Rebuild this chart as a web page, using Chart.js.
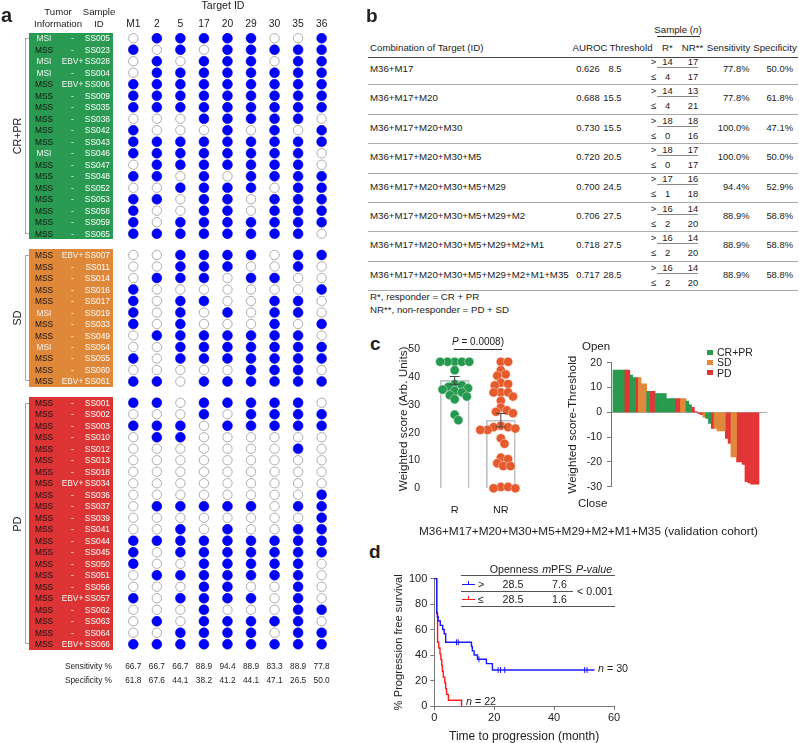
<!DOCTYPE html>
<html>
<head>
<meta charset="utf-8">
<script src="https://cdn.jsdelivr.net/npm/chart.js@4.4.0/dist/chart.umd.min.js"></script>
<style>
html, body { margin: 0; background: #fff; }
#page { position: relative; width: 799px; height: 743px; overflow: hidden; font-family: "Liberation Sans", Arial, Helvetica, sans-serif; color: #222; }
canvas { position: absolute; }
.t { position: absolute; white-space: nowrap; line-height: 1; }
</style>
</head>
<body>
<div id="page">
  <canvas id="matrix" width="340" height="700" style="left:0;top:0"></canvas>
  <canvas id="strip" width="139" height="175" style="left:393px;top:338px"></canvas>
  <canvas id="fall" width="213" height="148" style="left:562px;top:350px"></canvas>
  <canvas id="km" width="234" height="175" style="left:388px;top:569px"></canvas>
</div>
<script>
// ---- panel a : targets per sample ----
const targets = ['M1', '2', '5', '17', '20', '29', '30', '35', '36'];
const groupNames = ['CR+PR', 'SD', 'PD'];
const groupSize = [18, 12, 22];
const samples = ['SS005','SS023','SS028','SS004','SS006','SS009','SS035','SS038','SS042','SS043','SS046','SS047','SS048','SS052','SS053','SS058','SS059','SS065',
  'SS007','SS011','SS014','SS016','SS017','SS019','SS033','SS049','SS054','SS055','SS060','SS061',
  'SS001','SS002','SS003','SS010','SS012','SS013','SS018','SS034','SS036','SS037','SS039','SS041','SS044','SS045','SS050','SS051','SS056','SS057','SS062','SS063','SS064','SS066'];
const msStatus = ['MSI','MSS','MSI','MSI','MSS','MSS','MSS','MSS','MSS','MSS','MSI','MSS','MSS','MSS','MSS','MSS','MSS','MSS',
  'MSS','MSS','MSS','MSS','MSS','MSI','MSS','MSS','MSI','MSS','MSS','MSS',
  'MSS','MSS','MSS','MSS','MSS','MSS','MSS','MSS','MSS','MSS','MSS','MSS','MSS','MSS','MSS','MSS','MSS','MSS','MSS','MSS','MSS','MSS'];
const ebvPositive = ['SS028', 'SS006', 'SS007', 'SS061', 'SS034', 'SS057', 'SS066'];
// one string per sample, columns in the order of targets, 1 = target present
const hits = ['011111001','101011111','010111011','011111111','111111111','111111111','111111111','000111110','100010101','111111111','111111110','011111110','110101111','001111011','110110111','100110111','101111111','111111110',
  '001111011','001110010','011101100','100000001','101100110','101010110','101000101','011111110','001111111','101111111','000001110','110111111',
  '110111110','000101111','111011111','011000000','000000010','000000000','000000000','000000000','000000001','011111011','000000001','001010011','111111111','101111111','100111110','011111110','000110010','101111010','000100011','010111110','001111011','111111111'];
const sensitivity = [66.7, 66.7, 66.7, 88.9, 94.4, 88.9, 83.3, 88.9, 77.8];
const specificity = [61.8, 67.6, 44.1, 38.2, 41.2, 44.1, 47.1, 26.5, 50.0];

// ---- panel b : table ----
const combos = ['M36+M17', 'M36+M17+M20', 'M36+M17+M20+M30', 'M36+M17+M20+M30+M5', 'M36+M17+M20+M30+M5+M29',
  'M36+M17+M20+M30+M5+M29+M2', 'M36+M17+M20+M30+M5+M29+M2+M1', 'M36+M17+M20+M30+M5+M29+M2+M1+M35'];
const auroc = [0.626, 0.688, 0.730, 0.720, 0.700, 0.706, 0.718, 0.717];
const threshold = [8.5, 15.5, 15.5, 20.5, 24.5, 27.5, 27.5, 28.5];
const rAbove = [14, 14, 18, 18, 17, 16, 16, 16];
const rBelow = [4, 4, 0, 0, 1, 2, 2, 2];
const nrAbove = [17, 13, 18, 17, 16, 14, 14, 14];
const nrBelow = [17, 21, 16, 17, 18, 20, 20, 20];
const sensPct = [77.8, 77.8, 100.0, 100.0, 94.4, 88.9, 88.9, 88.9];
const specPct = [50.0, 61.8, 47.1, 50.0, 52.9, 58.8, 58.8, 58.8];

// ---- panel c : weighted scores ----
const scoreGroups = ['R', 'NR'];
const scoreR = [45.5, 45.5, 45.5, 45.5, 45.5, 42.5, 37.5, 37, 36.5, 36, 35.5, 35, 34.5, 33.5, 33, 32, 26.5, 24.5];
const scoreNR = [45.5, 45.5, 42.5, 41, 40.5, 38, 37.5, 37, 34.5, 34.5, 34.5, 33, 31.5, 29, 28, 27.5, 27, 22.5, 22, 22, 21.5, 21, 21, 18, 16, 11, 10.5, 9, 8, 8, 0.5, 0.5, 0, 0];
const meanScore = [38.8, 24.5];
const semScore = [1.4, 2.4];
// waterfall, score minus threshold, sorted; group 0 = CR+PR, 1 = SD, 2 = PD
const fallValue = [17,17,17,17,17,17,15,14,14,14,11.5,11.5,8.5,8.5,8.5,7.5,7.5,7.5,7.5,5.5,5.5,5.5,5.5,5.5,5.5,5.5,4.5,3,2,0.3,-0.5,-1,-2,-2.5,-4.5,-6.5,-6.5,-7.5,-7.5,-7.5,-10.5,-12.5,-18,-18,-20,-20,-21,-28,-28.5,-29,-29,-29];
const fallGroup = [0,0,0,0,2,2,0,0,2,1,1,1,0,2,2,0,0,0,0,0,0,0,2,2,1,1,0,0,2,2,2,2,1,0,0,2,1,1,1,1,2,2,1,1,2,2,2,2,2,2,2,2];

// ---- panel d : Kaplan-Meier ----
const hiTime = [0, 0.8, 1.0, 1.3, 2.0, 2.8, 3.3, 3.8, 12.4, 12.7, 13.3, 14.4, 17.4, 19.4, 53.5];
const hiSurv = [100, 73.3, 70, 66.7, 63.3, 60, 56.7, 50, 46.7, 43.3, 40, 36.7, 33.3, 28.3, 28.3];
const hiCensor = [7.4, 8.0, 14.9, 21.3, 22.1, 23.5, 50.2, 51.0];
const loTime = [0, 0.8, 1.1, 1.5, 1.9, 2.2, 2.5, 2.7, 3.0, 3.5, 3.8, 4.1, 4.7, 9.1];
const loSurv = [100, 72.7, 50, 45.5, 40.9, 36.4, 31.8, 27.3, 22.7, 18.2, 13.6, 9.1, 4.5, 0];

const groupColor = ['#2a9a52', '#e0883a', '#dc3434'];
const fallColor = ['#2a9a4e', '#e0893a', '#e23636'];

Chart.defaults.font.family = '"Liberation Sans", Arial, Helvetica, sans-serif';
Chart.defaults.color = '#222';
Chart.defaults.animation = false;

const page = document.getElementById('page');
function put(html, x, y, o = {}) {
  const d = document.createElement('div');
  d.className = 't';
  d.innerHTML = html;
  d.style.left = x + 'px';
  d.style.top = y + 'px';
  d.style.fontSize = (o.size || 9.7) + 'px';
  if (o.bold) d.style.fontWeight = 'bold';
  if (o.color) d.style.color = o.color;
  const tx = o.align === 'l' ? '0' : o.align === 'r' ? '-100%' : '-50%';
  d.style.transform = 'translate(' + tx + ',-50%)' + (o.rot ? ' rotate(' + o.rot + 'deg)' : '');
  page.appendChild(d);
}
function rect(x, y, w, h, css) {
  const d = document.createElement('div');
  d.style.cssText = 'position:absolute;box-sizing:border-box;left:' + x + 'px;top:' + y + 'px;width:' + w + 'px;height:' + h + 'px;' + css;
  page.appendChild(d);
}

// ===== a =====
const rowY = [];
const rowGroup = [];
let n = 0;
groupSize.forEach((size, g) => {
  for (let i = 0; i < size; i++) { rowY.push(n++ + g * 0.85); rowGroup.push(g); }
});
const filled = [], empty = [];
hits.forEach((row, i) => row.split('').forEach((c, j) => (c === '1' ? filled : empty).push({ x: j, y: rowY[i] })));

const matrix = new Chart(document.getElementById('matrix'), {
  type: 'scatter',
  data: {
    datasets: [
      { data: filled, backgroundColor: '#0000ff', borderColor: '#0000c0', borderWidth: 0.6, pointRadius: 4.9 },
      { data: empty, backgroundColor: '#ffffff', borderColor: '#9a9a9a', borderWidth: 0.8, pointRadius: 4.7 }
    ]
  },
  options: {
    responsive: false,
    animation: false,
    events: [],
    layout: { padding: { left: 120, right: 8, top: 32.5, bottom: 50 } },
    plugins: { legend: { display: false }, tooltip: { enabled: false } },
    scales: {
      x: { type: 'linear', display: false, min: -0.565, max: 8.44 },
      y: { type: 'linear', display: false, reverse: true, min: -0.5, max: rowY[rowY.length - 1] + 0.5 }
    }
  }
});

const xs = matrix.scales.x, ys = matrix.scales.y;
put('a', 1, 15, { size: 20, bold: true, align: 'l' });
put('Tumor', 58, 12, { size: 9.6 });
put('Information', 58, 23.5, { size: 9.6 });
put('Sample', 99, 12, { size: 9.6 });
put('ID', 99, 23.5, { size: 9.6 });
put('Target ID', 223, 5, { size: 10.6 });
targets.forEach((t, j) => put(t, xs.getPixelForValue(j), 23.5, { size: 10.3 }));

let start = 0;
groupSize.forEach((size, g) => {
  const first = start, last = start + size - 1;
  const top = ys.getPixelForValue(rowY[first] - 0.5), bot = ys.getPixelForValue(rowY[last] + 0.5);
  rect(29, top, 84, bot - top, 'background:' + groupColor[g]);
  const y1 = ys.getPixelForValue(rowY[first]), y2 = ys.getPixelForValue(rowY[last]);
  rect(25, y1, 4, y2 - y1, 'border:1px solid #aaa;border-right:none');
  put(groupNames[g], 17, (y1 + y2) / 2, { size: 10.7, rot: -90 });
  start += size;
});
samples.forEach((id, i) => {
  const y = ys.getPixelForValue(rowY[i]);
  put(msStatus[i], 44, y, { size: 8.4, color: msStatus[i] === 'MSI' ? '#f2f2f2' : '#141414' });
  put(ebvPositive.includes(id) ? 'EBV+' : '-', 72.5, y, { size: 8.4, color: '#f4f4f4' });
  put(id, 110, y, { size: 8.4, color: '#ffffff', align: 'r' });
});
put('Sensitivity %', 112, 665.5, { size: 8.3, align: 'r' });
put('Specificity %', 112, 680, { size: 8.3, align: 'r' });
targets.forEach((t, j) => {
  put(sensitivity[j].toFixed(1), xs.getPixelForValue(j), 665.5, { size: 8.3 });
  put(specificity[j].toFixed(1), xs.getPixelForValue(j), 680, { size: 8.3 });
});

// ===== b =====
put('b', 366, 15, { size: 19, bold: true, align: 'l' });
put('Sample (<i>n</i>)', 678, 30, { size: 9.7 });
rect(657, 36, 43, 1, 'background:#333');
put('Combination of Target (ID)', 370, 47.5, { align: 'l' });
put('AUROC', 590, 47.5);
put('Threshold', 631, 47.5);
put('R*', 667.5, 47.5);
put('NR**', 692.5, 47.5);
put('Sensitivity', 728.5, 47.5);
put('Specificity', 775, 47.5);
rect(368, 56.5, 430, 1.8, 'background:#444');
combos.forEach((c, k) => {
  const yc = 69 + 29.4 * k;
  put(c, 370, yc, { align: 'l' });
  put(auroc[k].toFixed(3), 588, yc, { size: 9.4 });
  put(threshold[k].toFixed(1), 621.5, yc, { size: 9.4, align: 'r' });
  put('&gt;', 653.5, yc - 7.3, { size: 9.4 });
  put('&le;', 653.5, yc + 7.7, { size: 9.4 });
  put(rAbove[k], 667.5, yc - 7.3, { size: 9.4 });
  put(rBelow[k], 667.5, yc + 7.7, { size: 9.4 });
  put(nrAbove[k], 693, yc - 7.3, { size: 9.4 });
  put(nrBelow[k], 693, yc + 7.7, { size: 9.4 });
  rect(657, yc - 2.3, 41, 1, 'background:#888');
  put(sensPct[k].toFixed(1) + '%', 749.5, yc, { size: 9.4, align: 'r' });
  put(specPct[k].toFixed(1) + '%', 793, yc, { size: 9.4, align: 'r' });
  rect(368, yc + 15.3, 430, 1, 'background:#aaa');
});
put('R*, responder = CR + PR', 370, 297, { align: 'l' });
put('NR**, non-responder = PD + SD', 370, 309.5, { align: 'l' });

// ===== c : strip plot =====
// simple beeswarm: spread points sideways so they do not pile up
function swarm(values, center) {
  const pxX = 45.7, pxY = 2.8, d = 6.3;
  const placed = [], out = [];
  const order = values.map((v, i) => i).sort((a, b) => values[b] - values[a]);
  for (const i of order) {
    const y = values[i] * pxY;
    let off = 0;
    for (let k = 0; k < 60; k++) {
      const o = (k % 2 ? 1 : -1) * Math.ceil(k / 2) * 1.2;
      if (placed.every(p => Math.hypot(p.x - o, p.y - y) >= d)) { off = o; break; }
    }
    placed.push({ x: off, y: y });
    out[i] = { x: center + off / pxX, y: values[i] };
  }
  return out;
}
const errorBars = {
  id: 'errorBars',
  afterDatasetsDraw(chart) {
    const { ctx, scales: { x, y } } = chart;
    ctx.save();
    ctx.strokeStyle = '#444';
    ctx.lineWidth = 1;
    meanScore.forEach((m, i) => {
      const px = x.getPixelForValue(i);
      const top = y.getPixelForValue(m + semScore[i]), bot = y.getPixelForValue(m - semScore[i]);
      ctx.beginPath();
      ctx.moveTo(px, top); ctx.lineTo(px, bot);
      ctx.moveTo(px - 5, top); ctx.lineTo(px + 5, top);
      ctx.moveTo(px - 5, bot); ctx.lineTo(px + 5, bot);
      ctx.stroke();
    });
    ctx.restore();
  }
};
new Chart(document.getElementById('strip'), {
  type: 'scatter',
  data: {
    datasets: [
      { type: 'scatter', data: swarm(scoreR, 0), backgroundColor: '#25994f', borderColor: 'rgba(255,255,255,0.55)', borderWidth: 0.7, pointRadius: 4.6, clip: false, order: 1 },
      { type: 'scatter', data: swarm(scoreNR, 1), backgroundColor: '#e65a2c', borderColor: 'rgba(255,255,255,0.55)', borderWidth: 0.7, pointRadius: 4.6, clip: false, order: 1 },
      { type: 'bar', data: meanScore.map((m, i) => ({ x: i, y: m })), backgroundColor: 'rgba(255,255,255,0)', borderColor: '#c2c2c2', borderWidth: 1, barThickness: 29, order: 2 }
    ]
  },
  options: {
    responsive: false,
    animation: false,
    events: [],
    layout: { padding: { left: 0, right: 9, top: 10.3, bottom: 0 } },
    plugins: { legend: { display: false }, tooltip: { enabled: false } },
    scales: {
      x: {
        type: 'linear', min: -0.47, max: 1.48, offset: false,
        grid: { display: false }, border: { display: false },
        afterBuildTicks: s => { s.ticks = [{ value: 0 }, { value: 1 }]; },
        ticks: { callback: v => scoreGroups[v], font: { size: 11 }, padding: 8, color: '#222' },
        afterFit: s => { s.height = 24.7; }
      },
      y: {
        type: 'linear', min: 0, max: 50,
        ticks: { stepSize: 10, font: { size: 10.5 }, padding: 5, color: '#222' },
        grid: { display: false }, border: { display: false },
        title: { display: true, text: 'Weighted score (Arb. Units)', font: { size: 11.8 }, color: '#222' },
        afterFit: s => { s.width = 40; }
      }
    }
  },
  plugins: [errorBars]
});
put('c', 370, 343, { size: 19, bold: true, align: 'l' });
put('<i>P</i> = 0.0008)', 478, 341.5, { size: 10 });
rect(454, 348.5, 48, 1, 'background:#333');

// ===== c : waterfall =====
const fallSets = groupNames.map((name, g) => ({
  type: 'bar',
  label: name,
  data: fallValue.map((v, i) => ({ x: i + 1, y: v })).filter((p, i) => fallGroup[i] === g),
  backgroundColor: fallColor[g],
  borderWidth: 0,
  barPercentage: 1,
  categoryPercentage: 1,
  grouped: false
}));
new Chart(document.getElementById('fall'), {
  type: 'bar',
  data: { datasets: fallSets },
  options: {
    responsive: false,
    animation: false,
    events: [],
    layout: { padding: { left: 0, right: 8, top: 12.7, bottom: 8 } },
    plugins: { legend: { display: false }, tooltip: { enabled: false } },
    scales: {
      x: { type: 'linear', display: false, min: -0.21, max: 55.35, offset: false },
      y: {
        type: 'linear', min: -30, max: 20,
        ticks: { stepSize: 10, font: { size: 10.5 }, padding: 5, color: '#222' },
        grid: { color: c => (c.tick && c.tick.value === 0 ? '#a8a8a8' : 'rgba(0,0,0,0)'), tickColor: '#777', tickLength: 4 },
        border: { display: true, color: '#777' },
        title: { display: true, text: 'Weighted score-Threshold', font: { size: 11.8 }, color: '#222' },
        afterFit: s => { s.width = 49; }
      }
    }
  }
});
put('Open', 582, 347, { size: 11.5, align: 'l' });
put('Close', 578, 503.5, { size: 11.5, align: 'l' });
groupNames.forEach((name, g) => {
  const y = 352 + g * 10.3;
  rect(707, y - 2.5, 6, 5, 'background:' + fallColor[g]);
  put(name, 717, y, { size: 10.5, align: 'l' });
});
put('M36+M17+M20+M30+M5+M29+M2+M1+M35 (validation cohort)', 588.5, 532, { size: 11.8 });

// ===== d : Kaplan-Meier =====
const steps = (ts, ss) => ts.map((t, i) => ({ x: t, y: ss[i] }));
function survAt(ts, ss, t) {
  let s = ss[0];
  ts.forEach((tt, i) => { if (tt <= t) s = ss[i]; });
  return s;
}
new Chart(document.getElementById('km'), {
  type: 'line',
  data: {
    datasets: [
      { data: steps(hiTime, hiSurv), borderColor: '#1a1aff', borderWidth: 1.4, stepped: true, pointRadius: 0, fill: false, clip: false },
      { data: steps(loTime, loSurv), borderColor: '#ff1a1a', borderWidth: 1.4, stepped: true, pointRadius: 0, fill: false, clip: false },
      { type: 'scatter', data: hiCensor.map(t => ({ x: t, y: survAt(hiTime, hiSurv, t) })), pointStyle: 'line', rotation: 90, pointRadius: 3, borderColor: '#1a1aff', borderWidth: 1, clip: false }
    ]
  },
  options: {
    responsive: false,
    animation: false,
    events: [],
    layout: { padding: { left: 0, right: 8, top: 8.3, bottom: 0 } },
    plugins: { legend: { display: false }, tooltip: { enabled: false } },
    scales: {
      x: {
        type: 'linear', min: 0, max: 60,
        ticks: { stepSize: 20, font: { size: 11 }, padding: 1.5, color: '#222' },
        grid: { drawOnChartArea: false, tickLength: 4, color: '#777' },
        border: { color: '#777' },
        title: { display: true, text: 'Time to progression (month)', font: { size: 12 }, color: '#222', padding: { top: 4, bottom: 0 } },
        afterFit: s => { s.height = 38; }
      },
      y: {
        type: 'linear', min: 0, max: 100,
        ticks: { stepSize: 20, font: { size: 11 }, padding: 3, color: '#222' },
        grid: { drawOnChartArea: false, tickLength: 4, color: '#777' },
        border: { color: '#777' },
        title: { display: true, text: '% Progression free survival', font: { size: 11.2 }, color: '#222' },
        afterFit: s => { s.width = 46.3; }
      }
    }
  }
});
put('d', 369, 551, { size: 19, bold: true, align: 'l' });
put('Openness', 514, 569, { size: 10.7 });
put('<i>m</i>PFS', 557, 569, { size: 10.7 });
put('<i>P-value</i>', 594, 569, { size: 10.7 });
rect(461, 575, 154, 1, 'background:#555');
rect(461, 590.5, 112, 1, 'background:#555');
rect(461, 606, 154, 1, 'background:#555');
rect(462, 583.5, 13, 1.4, 'background:#1a1aff');
rect(468, 580.5, 1, 3.5, 'background:#1a1aff');
rect(462, 598.5, 13, 1.4, 'background:#ff1a1a');
rect(468, 595.5, 1, 3.5, 'background:#ff1a1a');
put('&gt;', 481, 584, { size: 10.7 });
put('&le;', 481, 599, { size: 10.7 });
put('28.5', 513, 584, { size: 10.7 });
put('28.5', 513, 599, { size: 10.7 });
put('7.6', 559.5, 584, { size: 10.7 });
put('1.6', 559.5, 599, { size: 10.7 });
put('&lt; 0.001', 595, 591, { size: 10.7 });
put('<i>n</i> = 30', 598, 668, { size: 10.7, align: 'l' });
put('<i>n</i> = 22', 466, 701, { size: 10.7, align: 'l' });
</script>
</body>
</html>
